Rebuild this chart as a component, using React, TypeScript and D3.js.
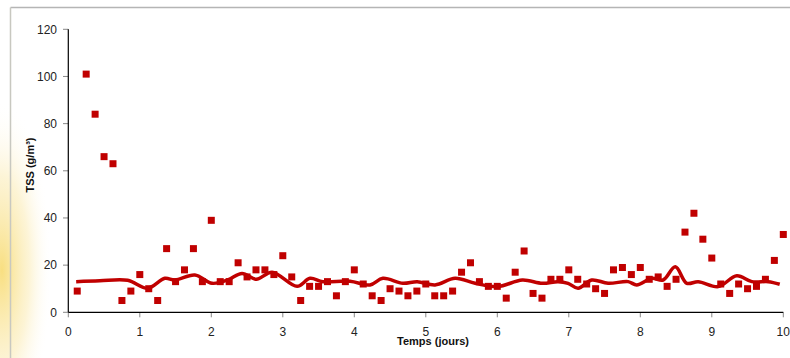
import React from 'react';
import * as d3 from 'd3';

// measured TSS samples (every 3 h)
const sampleDays = [
  0.125, 0.25, 0.375, 0.5, 0.625, 0.75, 0.875, 1, 1.125, 1.25,
  1.375, 1.5, 1.625, 1.75, 1.875, 2, 2.125, 2.25, 2.375, 2.5,
  2.625, 2.75, 2.875, 3, 3.125, 3.25, 3.375, 3.5, 3.625, 3.75,
  3.875, 4, 4.125, 4.25, 4.375, 4.5, 4.625, 4.75, 4.875, 5,
  5.125, 5.25, 5.375, 5.5, 5.625, 5.75, 5.875, 6, 6.125, 6.25,
  6.375, 6.5, 6.625, 6.75, 6.875, 7, 7.125, 7.25, 7.375, 7.5,
  7.625, 7.75, 7.875, 8, 8.125, 8.25, 8.375, 8.5, 8.625, 8.75,
  8.875, 9, 9.125, 9.25, 9.375, 9.5, 9.625, 9.75, 9.875, 10,
];
const sampleTss = [
  9, 101, 84, 66, 63, 5, 9, 16, 10, 5,
  27, 13, 18, 27, 13, 39, 13, 13, 21, 15,
  18, 18, 16, 24, 15, 5, 11, 11, 13, 7,
  13, 18, 12, 7, 5, 10, 9, 7, 9, 12,
  7, 7, 9, 17, 21, 13, 11, 11, 6, 17,
  26, 8, 6, 14, 14, 18, 14, 12, 10, 8,
  18, 19, 16, 19, 14, 15, 11, 14, 34, 42,
  31, 23, 12, 8, 12, 10, 11, 14, 22, 33,
];

// simulated curve
const modelDays = [
  0.11, 0.44, 0.83, 1.11, 1.35, 1.49, 1.77, 2.01, 2.23, 2.43,
  2.63, 2.85, 3.2, 3.38, 3.56, 3.94, 4.22, 4.4, 4.68, 4.88,
  5.13, 5.41, 5.69, 6.01, 6.35, 6.63, 6.85, 6.99, 7.13, 7.32,
  7.55, 7.83, 7.95, 8.16, 8.32, 8.49, 8.65, 8.81, 9.09, 9.35,
  9.56, 9.79, 9.95,
];
const modelTss = [
  13, 13.4, 13.6, 10.2, 14.4, 13.7, 15.8, 12.3, 13.7, 16.5,
  14, 17, 11, 14.4, 13, 13.2, 11.6, 14.4, 12.3, 13,
  11.6, 14.4, 12.3, 10.9, 13.7, 12.3, 13, 12.3, 10.2, 13.7,
  12.3, 13, 11.6, 14.4, 13.7, 19.3, 12.3, 13, 10.9, 15.5,
  13, 13, 11.9,
];

const xTicks = [0, 1, 2, 3, 4, 5, 6, 7, 8, 9, 10];
const yTicks = [0, 20, 40, 60, 80, 100, 120];

const W = 790;
const H = 358;
const RED = '#C00000';
const FONT = '"Liberation Sans", Arial, sans-serif';

export default function App() {
  const x = d3.scaleLinear().domain([0, 10]).range([68.3, 783.3]);
  const y = d3.scaleLinear().domain([0, 120]).range([312.3, 29.3]);

  const line = d3.line<number>()
    .x((_, i) => x(modelDays[i]))
    .y(d => y(d))
    .curve(d3.curveCatmullRom.alpha(0.5));

  return (
    <div style={{ position: 'fixed', left: 0, top: 0 }}>
      <svg width={W} height={H} style={{ display: 'block', fontFamily: FONT }}>
        <defs>
          <radialGradient id="glow" cx="0.5" cy="0.5" r="0.5">
            <stop offset="0%" stopColor="#F7D96A" stopOpacity={0.85} />
            <stop offset="55%" stopColor="#FAE7A4" stopOpacity={0.45} />
            <stop offset="100%" stopColor="#FFFFFF" stopOpacity={0} />
          </radialGradient>
        </defs>
        <rect x={0} y={0} width={W} height={H} fill="#fff" />
        <ellipse cx={2} cy={270} rx={50} ry={170} fill="url(#glow)" />
        <line x1={10.5} y1={7.5} x2={W} y2={7.5} stroke="#B5B5B5" strokeWidth={1.5} />
        <line x1={10.5} y1={7.5} x2={10.5} y2={H} stroke="#C8C8C0" strokeWidth={1.5} />

        {/* y axis */}
        <g>
          {yTicks.map(t => (
            <g key={t}>
              <line x1={63} x2={68.3} y1={y(t)} y2={y(t)} stroke="#888" />
              <text x={57} y={y(t)} dy="0.35em" textAnchor="end" fontSize={12} fill="#222">{t}</text>
            </g>
          ))}
          <line x1={68.3} x2={68.3} y1={y(120)} y2={y(0)} stroke="#000" strokeWidth={1.2} />
        </g>

        {/* x axis */}
        <g>
          {xTicks.map(t => (
            <g key={t}>
              <line x1={x(t)} x2={x(t)} y1={y(0)} y2={y(0) + 5} stroke="#888" />
              <text x={x(t)} y={336} textAnchor="middle" fontSize={12} fill="#222">{t}</text>
            </g>
          ))}
          <line x1={x(0)} x2={x(10)} y1={y(0)} y2={y(0)} stroke="#000" strokeWidth={1.2} />
        </g>

        <text x={433} y={345} textAnchor="middle" fontSize={11} fontWeight="bold" fill="#111">Temps (jours)</text>
        <text transform="translate(34,165) rotate(-90)" textAnchor="middle" fontSize={11} fontWeight="bold" fill="#111">TSS (g/m³)</text>

        <path d={line(modelTss) ?? ''} fill="none" stroke={RED} strokeWidth={3.5} strokeLinejoin="round" />

        {sampleTss.map((v, i) => (
          <rect key={i} x={x(sampleDays[i]) - 3.5} y={y(v) - 3.5} width={7} height={7} fill={RED} />
        ))}
      </svg>
    </div>
  );
}
